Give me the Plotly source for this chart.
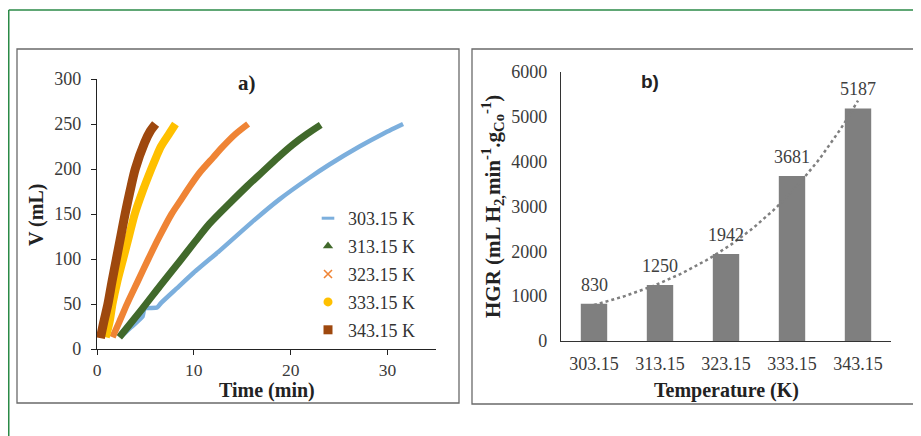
import numpy as np
import plotly.graph_objects as go

# The page body has an 8 px margin, so the figure is sized to fill the rest
# of the 921x436 window and all reference pixel positions are shifted by 8.
OFF = 8
W, H = 921 - OFF, 436 - OFF

# ---------------- Panel a) data (read from picture) ----------------
series_names = ["303.15 K", "313.15 K", "323.15 K", "333.15 K", "343.15 K"]

t_303 = [2.4, 3.5, 4.7, 4.9, 6.2, 6.6, 8.2, 10.0, 12.65, 13.7, 16.0, 18.8, 21.9, 24.0, 27.1, 29.5, 31.6]
v_303 = [13, 24, 36, 45, 46, 51, 67, 85, 109, 119, 141, 166, 190, 205, 225, 239, 250]

t_313 = [2.3, 4.7, 6.5, 8.5, 10.1, 11.6, 13.7, 15.5, 17.1, 18.7, 20.2, 21.7, 23.1]
v_313 = [13, 45, 70, 97, 119, 139, 162, 181, 197, 213, 227, 239, 249]

t_323 = [1.6, 2.3, 3.1, 4.2, 5.3, 6.5, 7.7, 8.5, 9.6, 10.6, 12.0, 13.0, 14.2, 15.6]
v_323 = [13, 30, 50, 75, 100, 126, 150, 163, 181, 196, 213, 225, 238, 250]

t_333 = [0.9, 1.3, 1.6, 2.1, 2.7, 3.3, 3.9, 4.7, 5.6, 6.1, 6.6, 7.5, 8.1]
v_333 = [13, 30, 50, 75, 100, 125, 150, 175, 200, 213, 225, 240, 250]

t_343 = [0.35, 0.7, 1.13, 1.55, 2.0, 2.45, 2.9, 3.4, 3.95, 4.9, 5.5, 6.05]
v_343 = [12, 30, 50, 75, 100, 125, 150, 175, 200, 229, 242, 250]

# ---------------- Panel b) data ----------------
temps = ["303.15", "313.15", "323.15", "333.15", "343.15"]
hgr = [830, 1250, 1942, 3681, 5187]

# ---------------- Styles ----------------
colors = ["#7cafdd", "#41692b", "#ef8435", "#ffc000", "#9e480e"]
widths = [4.5, 7, 6.5, 8, 9]
smooth = [0.4, 0.8, 0.8, 0.8, 0.8]
symbols = ["line-ew", "triangle-up", "x-thin", "circle", "square"]
serif = "Liberation Serif"
tick_col = "#3a3a3a"


def px_x(p):
    return max(p - OFF, 0.75) / W


def px_y(p):
    return 1 - (p - OFF) / H


fig = go.Figure()

all_t = [t_303, t_313, t_323, t_333, t_343]
all_v = [v_303, v_313, v_323, v_333, v_343]
for name, t, v, c, w, sm in zip(series_names, all_t, all_v, colors, widths, smooth):
    fig.add_trace(go.Scatter(x=t, y=v, mode="lines", name=name,
                             line=dict(color=c, width=w, shape="spline", smoothing=sm),
                             showlegend=False, xaxis="x", yaxis="y",
                             hoverinfo="skip"))

# legend entries (marker symbols as in the reference legend)
for k, (name, c, s) in enumerate(zip(series_names, colors, symbols)):
    mk = dict(color=c, symbol=s, size=9)
    if s == "line-ew":
        mk = dict(color=c, symbol=s, size=9, line=dict(color=c, width=3))
    if s == "x-thin":
        mk = dict(color=c, symbol=s, size=8, line=dict(color=c, width=1.6))
    fig.add_trace(go.Scatter(x=[None], y=[None], mode="markers", name=name,
                             marker=mk, xaxis="x", yaxis="y", showlegend=True,
                             legendgroup=f"g{k}"))

# trendline (exponential fit of the bar values), drawn behind bars
idx = np.arange(1, len(hgr) + 1)
coef = np.polyfit(idx, np.log(hgr), 1)
xs = np.linspace(idx[0], idx[-1], 60)
fig.add_trace(go.Scatter(x=xs, y=np.exp(np.polyval(coef, xs)), mode="lines",
                         line=dict(color="#7f7f7f", width=2.5, dash="dot"),
                         showlegend=False, xaxis="x2", yaxis="y2", hoverinfo="skip"))

fig.add_trace(go.Bar(x=idx, y=hgr, width=0.4, marker=dict(color="#7f7f7f", line=dict(width=0)),
                     showlegend=False, xaxis="x2", yaxis="y2"))

tickfont = dict(family=serif, size=18, color=tick_col)

fig.update_layout(
    width=W, height=H, autosize=False,
    margin=dict(l=0, r=0, t=0, b=0, pad=0, autoexpand=False),
    paper_bgcolor="white", plot_bgcolor="white",
    xaxis=dict(domain=[px_x(97), px_x(436)], range=[0, 35], tickvals=[0, 10, 20, 30],
               ticks="outside", ticklen=5, tickcolor="#222", showline=True, linecolor="#222",
               linewidth=1.3, showgrid=False, zeroline=False,
               tickfont=dict(family=serif, size=17.5, color=tick_col),
               anchor="y", fixedrange=True, automargin=False),
    yaxis=dict(domain=[px_y(349), px_y(79)], range=[0, 300], dtick=50,
               ticks="outside", ticklen=5, tickcolor="#222", showline=True, linecolor="#222",
               linewidth=1.3, showgrid=False, zeroline=False, tickfont=tickfont,
               anchor="x", fixedrange=True, automargin=False, ticklabelstandoff=6),
    xaxis2=dict(domain=[px_x(561), px_x(891)], range=[0.5, 5.5], tickvals=list(idx),
                ticktext=temps, ticks="", showline=True, linecolor="#333", linewidth=1.3,
                showgrid=False, zeroline=False, tickfont=tickfont, anchor="y2",
                fixedrange=True, automargin=False, ticklabelstandoff=6),
    yaxis2=dict(domain=[px_y(341), px_y(72)], range=[0, 6000], dtick=1000, ticks="",
                showline=True, linecolor="#333", linewidth=1.3, showgrid=False,
                zeroline=False, tickfont=tickfont, anchor="x2", fixedrange=True,
                automargin=False, ticklabelstandoff=9),
    legend=dict(x=px_x(308), y=px_y(200), xanchor="left", yanchor="top",
                font=dict(family=serif, size=18, color="#333"),
                bgcolor="rgba(0,0,0,0)", itemwidth=30, tracegroupgap=1.5),
    showlegend=True,
)

shapes = [
    dict(type="rect", xref="paper", yref="paper", x0=px_x(17), x1=px_x(459),
         y0=px_y(403), y1=px_y(49), line=dict(color="#6a6a6a", width=1.3)),
    dict(type="rect", xref="paper", yref="paper", x0=px_x(472), x1=px_x(914),
         y0=px_y(404), y1=px_y(49), line=dict(color="#6a6a6a", width=1.3)),
    dict(type="line", xref="paper", yref="paper", x0=px_x(6), x1=1,
         y0=px_y(10), y1=px_y(10), line=dict(color="#2b8a47", width=1.5)),
    dict(type="line", xref="paper", yref="paper", x0=px_x(6), x1=px_x(6),
         y0=px_y(10), y1=0, line=dict(color="#2b8a47", width=1.5)),
]
fig.update_layout(shapes=shapes)

title_font = dict(family=serif, size=20, color="#222")


def ann(text, x, y, font, angle=0):
    return dict(text=text, x=px_x(x), y=px_y(y), xref="paper", yref="paper",
                xanchor="center", yanchor="middle", showarrow=False,
                textangle=angle, font=font)


annotations = [
    ann("<b>a)</b>", 247, 83, dict(family=serif, size=21, color="#222")),
    ann("<b>b)</b>", 650, 82, dict(family="Liberation Sans", size=19, color="#222")),
    ann("<b>Time (min)</b>", 267, 390, title_font),
    ann("<b>Temperature (K)</b>", 726, 390, title_font),
    ann("<b>V (mL)</b>", 36, 215, title_font, -90),
    ann("<b>HGR (mL H<sub>2,</sub>min<sup>-1</sup>.g<sub>Co</sub><sup>-1</sup>)</b>",
        492, 207, dict(family=serif, size=21, color="#222"), -90),
]
for i, val in zip(idx, hgr):
    annotations.append(dict(text=str(val), x=i, y=val, xref="x2", yref="y2", yshift=19,
                            xanchor="center", yanchor="middle",
                            showarrow=False, font=dict(family=serif, size=18, color="#404040")))
fig.update_layout(annotations=annotations)

fig.write_html("out.html")
